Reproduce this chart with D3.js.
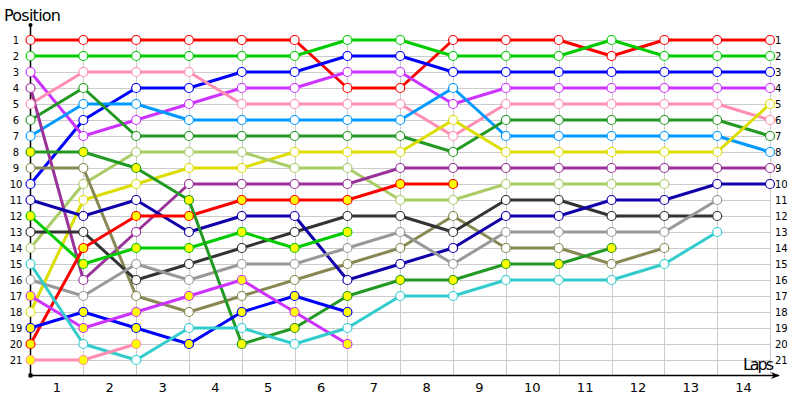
<!DOCTYPE html>
<html>
<head>
<meta charset="utf-8">
<script src="https://cdn.jsdelivr.net/npm/d3@7"></script>
<style>
  body { margin: 0; background: #fff; }
  svg text { font-family: "Liberation Sans", Arial, sans-serif; }
</style>
</head>
<body>
<div id="chart"></div>
<script>
// positions per lap column (column 0 = start grid)
const positions = d3.range(1, 22);
const laps = d3.range(1, 15);

const red      = [1,1,1,1,1,1,4,4,1,1,1,2,1,1,1];
const green    = [2,2,2,2,2,2,1,1,2,2,2,1,2,2,2];
const blue     = [10,6,4,4,3,3,2,2,3,3,3,3,3,3,3];
const magenta  = [3,7,6,5,4,4,3,3,5,4,4,4,4,4,4];
const pink     = [5,3,3,3,5,5,5,5,7,5,5,5,5,5,6];
const skyBlue  = [7,5,5,6,6,6,6,6,4,7,7,7,7,7,8];
const darkGreen= [6,4,7,7,7,7,7,7,8,6,6,6,6,6,7];
const yellow   = [18,11,10,9,9,8,8,8,6,8,8,8,8,8,5];
const lime     = [14,10,8,8,8,9,9,11,11,10,10,10,10];
const plum     = [4,16,13,10,10,10,10,9,9,9,9,9,9,9,9];
const olive    = [9,9,17,18,17,16,15,14,12,14,14,15,14];
const charcoal = [13,13,16,15,14,13,12,12,13,11,11,12,12,12];
const navy     = [11,12,11,13,12,12,16,15,14,12,12,11,11,10,10];
const silver   = [16,17,15,16,15,15,14,13,15,13,13,13,13,11];
const green2   = [12,15,14,14,13,14,13];
const red2     = [20,14,12,12,11,11,11,10,10];
const darkGreen2 = [8,8,9,11,20,19,17,16,16,15,15,14];
const blue2    = [19,18,19,20,18,17,18];
const magenta2 = [17,19,18,17,16,18,20];
const cyan     = [15,20,21,19,19,20,19,17,17,16,16,16,15,13];
const pink2    = [21,21,20];

const series = [
    {pos: red, color: "#ff0000", fill: "#fff"},
    {pos: green, color: "#00cc00", fill: "#fff"},
    {pos: blue, color: "#0000ff", fill: "#fff"},
    {pos: magenta, color: "#cc33ff", fill: "#fff"},
    {pos: pink, color: "#ff8fb1", fill: "#fff"},
    {pos: skyBlue, color: "#0099ff", fill: "#fff"},
    {pos: darkGreen, color: "#229922", fill: "#fff"},
    {pos: yellow, color: "#dddd00", fill: "#fff"},
    {pos: lime, color: "#aacc66", fill: "#fff"},
    {pos: plum, color: "#993399", fill: "#fff"},
    {pos: olive, color: "#888855", fill: "#fff"},
    {pos: charcoal, color: "#333333", fill: "#fff"},
    {pos: navy, color: "#1100aa", fill: "#fff"},
    {pos: silver, color: "#999999", fill: "#fff"},
    {pos: green2, color: "#00cc00", fill: "#ffff00"},
    {pos: red2, color: "#ff0000", fill: "#ffff00"},
    {pos: darkGreen2, color: "#229922", fill: "#ffff00"},
    {pos: blue2, color: "#0000ff", fill: "#ffff00"},
    {pos: magenta2, color: "#cc33ff", fill: "#ffff00"},
    {pos: cyan, color: "#33cccc", fill: "#fff"},
    {pos: pink2, color: "#ff8fb1", fill: "#ffff00"}
];

const width = 800, height = 400;
const plotLeft = 30.5, plotRight = 770, plotTop = 40, plotBottom = 360, axisY = 375.5;

const svg = d3.select("#chart").append("svg")
    .attr("width", width)
    .attr("height", height);

let xScale = d3.scaleLinear().domain([0, 14]).range([plotLeft, plotRight]);
let yScale = d3.scaleLinear().domain([1, 21]).range([plotTop, plotBottom]);
let lapScale = d3.scaleBand().domain(laps).range([plotLeft, plotRight]).padding(0);

// grid
svg.append("g").selectAll("line")
    .data(positions)
    .enter().append("line")
    .attr("x1", plotLeft).attr("x2", plotRight)
    .attr("y1", d => Math.round(yScale(d)) + 0.5)
    .attr("y2", d => Math.round(yScale(d)) + 0.5)
    .attr("stroke", "#cccccc");

svg.append("g").selectAll("line")
    .data(d3.range(1, 15))
    .enter().append("line")
    .attr("x1", d => Math.round(xScale(d)) + 0.5)
    .attr("x2", d => Math.round(xScale(d)) + 0.5)
    .attr("y1", 35).attr("y2", axisY)
    .attr("stroke", "#cccccc");

// axes lines
svg.append("defs").append("marker")
    .attr("id", "arrow")
    .attr("viewBox", "0 0 10 10")
    .attr("refX", 9).attr("refY", 5)
    .attr("markerWidth", 8).attr("markerHeight", 6)
    .attr("orient", "auto")
    .append("path")
    .attr("d", "M0,1 L10,5 L0,9 L3,5 Z")
    .attr("fill", "#000");

svg.append("line")
    .attr("x1", plotLeft).attr("x2", plotLeft)
    .attr("y1", 25).attr("y2", axisY)
    .attr("stroke", "#000").attr("stroke-width", 1.5);
svg.append("circle")
    .attr("cx", plotLeft).attr("cy", 25).attr("r", 2).attr("fill", "#000");

svg.append("line")
    .attr("x1", plotLeft).attr("x2", 779)
    .attr("y1", axisY).attr("y2", axisY)
    .attr("stroke", "#000").attr("stroke-width", 1.5)
    .attr("marker-end", "url(#arrow)");
svg.append("rect")
    .attr("x", plotLeft - 2).attr("y", axisY - 2)
    .attr("width", 4).attr("height", 4).attr("fill", "#000");

// tick labels
let yAxisL = svg.append("g")
    .attr("transform", "translate(22,0)")
    .call(d3.axisLeft(yScale).tickValues(positions).tickSize(0).tickPadding(0));
yAxisL.select(".domain").remove();
yAxisL.selectAll("text")
    .attr("text-anchor", "middle")
    .attr("x", -6)
    .style("font-size", "10px")
    .style("font-family", "'DejaVu Sans', sans-serif")
    .attr("fill", "#000");

let yAxisR = svg.append("g")
    .attr("transform", `translate(${plotRight + 5},0)`)
    .call(d3.axisRight(yScale).tickValues(positions).tickSize(0).tickPadding(0));
yAxisR.select(".domain").remove();
yAxisR.selectAll("text")
    .style("font-size", "10px")
    .style("font-family", "'DejaVu Sans', sans-serif")
    .attr("fill", "#000");

let xAxis = svg.append("g")
    .attr("transform", `translate(0,${axisY})`)
    .call(d3.axisBottom(lapScale).tickSize(0).tickPadding(7));
xAxis.select(".domain").remove();
xAxis.selectAll("text")
    .style("font-size", "13px")
    .style("font-family", "'DejaVu Sans', sans-serif")
    .attr("fill", "#000");

svg.append("text")
    .attr("x", 4).attr("y", 21)
    .style("font-size", "16px")
    .style("font-family", "'DejaVu Sans', sans-serif")
    .attr("textLength", 57)
    .text("Position");

svg.append("text")
    .attr("x", 743).attr("y", 370)
    .style("font-size", "16px")
    .style("font-family", "'DejaVu Sans', sans-serif")
    .attr("textLength", 31)
    .text("Laps");

// lines
let line = d3.line()
    .x((d, i) => xScale(i))
    .y(d => yScale(d));

svg.append("g").selectAll("path")
    .data(series)
    .enter().append("path")
    .attr("d", d => line(d.pos))
    .attr("fill", "none")
    .attr("stroke", d => d.color)
    .attr("stroke-width", 3)
    .attr("stroke-linejoin", "round");

// markers
let pts = [];
for (let s of series) {
    s.pos.forEach((p, i) => pts.push({col: i, pos: p, color: s.color, fill: s.fill}));
}

svg.append("g").selectAll("circle")
    .data(pts)
    .enter().append("circle")
    .attr("cx", d => xScale(d.col))
    .attr("cy", d => yScale(d.pos))
    .attr("r", 4.5)
    .attr("fill", d => d.fill)
    .attr("stroke", d => d.color)
    .attr("stroke-width", 1.2);
</script>
</body>
</html>
